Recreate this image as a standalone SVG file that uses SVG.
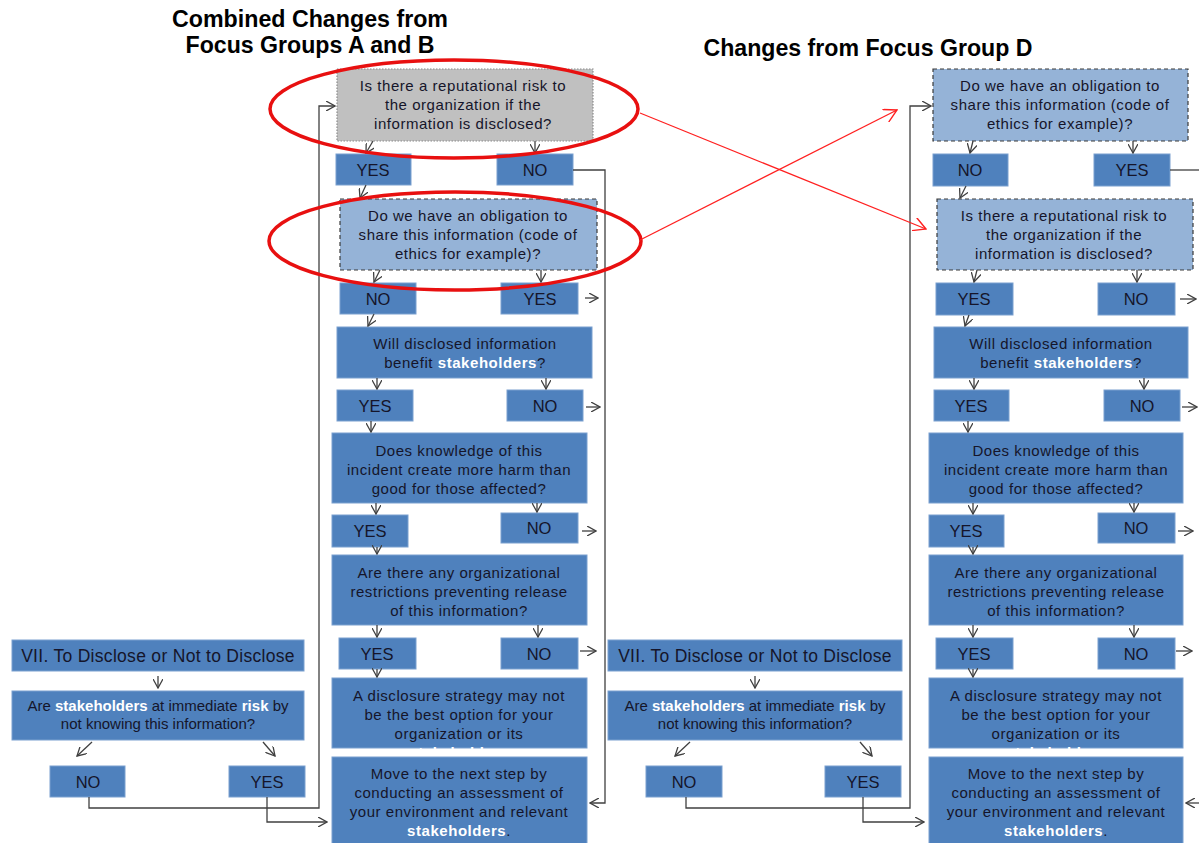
<svg xmlns="http://www.w3.org/2000/svg" width="1199" height="843" viewBox="0 0 1199 843">
<style>
.b{fill:#4f81bd;stroke:#7aa0cf;stroke-width:1}
.lb{fill:#95b3d7;stroke:#3a3a3a;stroke-width:1.2;stroke-dasharray:4 3}
.gr{fill:#c0c0c0;stroke:#8a8a8a;stroke-width:1.2;stroke-dasharray:1.5 1.5}
.t{font-family:"Liberation Sans",Arial,sans-serif;font-size:15px;letter-spacing:0.55px;fill:#15152a;text-anchor:middle}
.tl{font-family:"Liberation Sans",Arial,sans-serif;font-size:16.5px;fill:#15152a;text-anchor:middle}
.tv{font-family:"Liberation Sans",Arial,sans-serif;font-size:17.5px;letter-spacing:0.3px;fill:#15152a;text-anchor:middle}
.ts{font-family:"Liberation Sans",Arial,sans-serif;font-size:15px;fill:#15152a;text-anchor:middle}
.w{fill:#ffffff;font-weight:bold}
.h{font-family:"Liberation Sans",Arial,sans-serif;font-size:23px;font-weight:bold;fill:#000;text-anchor:middle}
.c{fill:none;stroke:#404040;stroke-width:1.3}
.a{fill:none;stroke:#404040;stroke-width:1.3;marker-end:url(#ah)}
.r{fill:none;stroke:#ff2020;stroke-width:1.2;marker-end:url(#rh)}
.e{fill:none;stroke:#e81010;stroke-width:3.5}
</style>
<defs>
<marker id="ah" viewBox="0 0 10 10" refX="9" refY="5" markerWidth="10" markerHeight="10" markerUnits="userSpaceOnUse" orient="auto">
<path d="M0,0 L9,5 L0,10" fill="none" stroke="#404040" stroke-width="1.3"/>
</marker>
<marker id="rh" viewBox="0 0 12 12" refX="11" refY="6" markerWidth="14" markerHeight="14" markerUnits="userSpaceOnUse" orient="auto">
<path d="M0,0 L11,6 L0,12" fill="none" stroke="#ff2020" stroke-width="1.2"/>
</marker>
</defs>
<rect width="1199" height="843" fill="#ffffff"/>

<g id="titles">
<text class="h" x="310" y="27" textLength="276" lengthAdjust="spacingAndGlyphs">Combined Changes from</text>
<text class="h" x="310" y="53" textLength="249" lengthAdjust="spacingAndGlyphs">Focus Groups A and B</text>
<text class="h" x="868" y="56" textLength="329" lengthAdjust="spacingAndGlyphs">Changes from Focus Group D</text>
</g>

<!-- ===== Left flow (A and B) ===== -->
<g id="ab-q1"><rect class="gr" x="337" y="69" width="256" height="72"/>
<text class="t" x="463" y="91">Is there a reputational risk to</text>
<text class="t" x="463" y="110">the organization if the</text>
<text class="t" x="463" y="129">information is disclosed?</text></g>
<g id="ab-q1-yes"><rect class="b" x="336" y="154" width="75" height="31"/><text class="tl" x="373" y="176">YES</text></g>
<g id="ab-q1-no"><rect class="b" x="497" y="154" width="76" height="31"/><text class="tl" x="535" y="176">NO</text></g>
<g id="ab-q2"><rect class="lb" x="340" y="199" width="257" height="71"/>
<text class="t" x="468" y="221">Do we have an obligation to</text>
<text class="t" x="468" y="240">share this information (code of</text>
<text class="t" x="468" y="259">ethics for example)?</text></g>
<g id="ab-q2-no"><rect class="b" x="340" y="283" width="76" height="31"/><text class="tl" x="378" y="305">NO</text></g>
<g id="ab-q2-yes"><rect class="b" x="501" y="283" width="77" height="31"/><text class="tl" x="540" y="305">YES</text></g>
<g id="ab-q3"><rect class="b" x="337" y="327" width="255" height="51"/>
<text class="t" x="465" y="349">Will disclosed information</text>
<text class="t" x="465" y="368">benefit <tspan class="w">stakeholders</tspan>?</text></g>
<g id="ab-q3-yes"><rect class="b" x="337" y="390" width="76" height="31"/><text class="tl" x="375" y="412">YES</text></g>
<g id="ab-q3-no"><rect class="b" x="507" y="390" width="76" height="31"/><text class="tl" x="545" y="412">NO</text></g>
<g id="ab-q4"><rect class="b" x="332" y="433" width="255" height="70"/>
<text class="t" x="459" y="456">Does knowledge of this</text>
<text class="t" x="459" y="475">incident create more harm than</text>
<text class="t" x="459" y="494">good for those affected?</text></g>
<g id="ab-q4-yes"><rect class="b" x="332" y="515" width="76" height="32"/><text class="tl" x="370" y="537">YES</text></g>
<g id="ab-q4-no"><rect class="b" x="501" y="513" width="77" height="30"/><text class="tl" x="539" y="534">NO</text></g>
<g id="ab-q5"><rect class="b" x="332" y="555" width="255" height="70"/>
<text class="t" x="459" y="578">Are there any organizational</text>
<text class="t" x="459" y="597">restrictions preventing release</text>
<text class="t" x="459" y="616">of this information?</text></g>
<g id="ab-q5-yes"><rect class="b" x="339" y="638" width="77" height="31"/><text class="tl" x="377" y="660">YES</text></g>
<g id="ab-q5-no"><rect class="b" x="501" y="638" width="77" height="31"/><text class="tl" x="539" y="660">NO</text></g>
<g id="ab-r1"><rect class="b" x="332" y="678" width="255" height="70"/>
<text class="t" x="459" y="701">A disclosure strategy may not</text>
<text class="t" x="459" y="720">be the best option for your</text>
<text class="t" x="459" y="739">organization or its</text>
<text class="t w" x="459" y="758">stakeholders</text></g>
<g id="ab-r2"><rect class="b" x="332" y="757" width="255" height="90"/>
<text class="t" x="459" y="779">Move to the next step by</text>
<text class="t" x="459" y="798">conducting an assessment of</text>
<text class="t" x="459" y="817">your environment and relevant</text>
<text class="t" x="459" y="836"><tspan class="w">stakeholders</tspan>.</text></g>
<g id="ab-vii"><rect class="b" x="12" y="640" width="292" height="31"/><text class="tv" x="158" y="662">VII. To Disclose or Not to Disclose</text></g>
<g id="ab-risk"><rect class="b" x="12" y="691" width="292" height="49"/>
<text class="ts" x="158" y="711">Are <tspan class="w">stakeholders</tspan> at immediate <tspan class="w">risk</tspan> by</text>
<text class="ts" x="158" y="729">not knowing this information?</text></g>
<g id="ab-risk-no"><rect class="b" x="50" y="766" width="75" height="31"/><text class="tl" x="88" y="788">NO</text></g>
<g id="ab-risk-yes"><rect class="b" x="229" y="766" width="76" height="31"/><text class="tl" x="267" y="788">YES</text></g>

<!-- ===== Right flow (D) ===== -->
<g id="d-q1"><rect class="lb" x="933" y="69" width="255" height="72"/>
<text class="t" x="1060" y="91">Do we have an obligation to</text>
<text class="t" x="1060" y="110">share this information (code of</text>
<text class="t" x="1060" y="129">ethics for example)?</text></g>
<g id="d-q1-no"><rect class="b" x="933" y="154" width="75" height="32"/><text class="tl" x="970" y="176">NO</text></g>
<g id="d-q1-yes"><rect class="b" x="1094" y="154" width="76" height="32"/><text class="tl" x="1132" y="176">YES</text></g>
<g id="d-q2"><rect class="lb" x="937" y="199" width="256" height="71"/>
<text class="t" x="1064" y="221">Is there a reputational risk to</text>
<text class="t" x="1064" y="240">the organization if the</text>
<text class="t" x="1064" y="259">information is disclosed?</text></g>
<g id="d-q2-yes"><rect class="b" x="936" y="283" width="77" height="32"/><text class="tl" x="974" y="305">YES</text></g>
<g id="d-q2-no"><rect class="b" x="1098" y="283" width="77" height="32"/><text class="tl" x="1136" y="305">NO</text></g>
<g id="d-q3"><rect class="b" x="934" y="327" width="254" height="51"/>
<text class="t" x="1061" y="349">Will disclosed information</text>
<text class="t" x="1061" y="368">benefit <tspan class="w">stakeholders</tspan>?</text></g>
<g id="d-q3-yes"><rect class="b" x="934" y="390" width="75" height="31"/><text class="tl" x="971" y="412">YES</text></g>
<g id="d-q3-no"><rect class="b" x="1104" y="390" width="76" height="31"/><text class="tl" x="1142" y="412">NO</text></g>
<g id="d-q4"><rect class="b" x="929" y="433" width="254" height="70"/>
<text class="t" x="1056" y="456">Does knowledge of this</text>
<text class="t" x="1056" y="475">incident create more harm than</text>
<text class="t" x="1056" y="494">good for those affected?</text></g>
<g id="d-q4-yes"><rect class="b" x="929" y="515" width="75" height="32"/><text class="tl" x="966" y="537">YES</text></g>
<g id="d-q4-no"><rect class="b" x="1098" y="513" width="77" height="30"/><text class="tl" x="1136" y="534">NO</text></g>
<g id="d-q5"><rect class="b" x="929" y="555" width="254" height="70"/>
<text class="t" x="1056" y="578">Are there any organizational</text>
<text class="t" x="1056" y="597">restrictions preventing release</text>
<text class="t" x="1056" y="616">of this information?</text></g>
<g id="d-q5-yes"><rect class="b" x="936" y="638" width="77" height="31"/><text class="tl" x="974" y="660">YES</text></g>
<g id="d-q5-no"><rect class="b" x="1098" y="638" width="77" height="31"/><text class="tl" x="1136" y="660">NO</text></g>
<g id="d-r1"><rect class="b" x="929" y="678" width="254" height="70"/>
<text class="t" x="1056" y="701">A disclosure strategy may not</text>
<text class="t" x="1056" y="720">be the best option for your</text>
<text class="t" x="1056" y="739">organization or its</text>
<text class="t w" x="1056" y="758">stakeholders</text></g>
<g id="d-r2"><rect class="b" x="929" y="757" width="254" height="90"/>
<text class="t" x="1056" y="779">Move to the next step by</text>
<text class="t" x="1056" y="798">conducting an assessment of</text>
<text class="t" x="1056" y="817">your environment and relevant</text>
<text class="t" x="1056" y="836"><tspan class="w">stakeholders</tspan>.</text></g>
<g id="d-vii"><rect class="b" x="608" y="640" width="294" height="31"/><text class="tv" x="755" y="662">VII. To Disclose or Not to Disclose</text></g>
<g id="d-risk"><rect class="b" x="608" y="691" width="294" height="49"/>
<text class="ts" x="755" y="711">Are <tspan class="w">stakeholders</tspan> at immediate <tspan class="w">risk</tspan> by</text>
<text class="ts" x="755" y="729">not knowing this information?</text></g>
<g id="d-risk-no"><rect class="b" x="646" y="766" width="76" height="31"/><text class="tl" x="684" y="788">NO</text></g>
<g id="d-risk-yes"><rect class="b" x="825" y="766" width="76" height="31"/><text class="tl" x="863" y="788">YES</text></g>

<g id="connectors">
<!-- left flow -->
<path class="a" d="M373,141 L366,153"/>
<path class="a" d="M535,141 L535,153"/>
<path class="a" d="M366,185 L360,198"/>
<path class="a" d="M380,270 L374,282"/>
<path class="a" d="M541,270 L541,282"/>
<path class="a" d="M585,298 L598,298"/>
<path class="a" d="M374,314 L368,326"/>
<path class="a" d="M377,378 L377,389"/>
<path class="a" d="M546,378 L546,389"/>
<path class="a" d="M586,407 L600,407"/>
<path class="a" d="M371,421 L371,432"/>
<path class="a" d="M376,503 L376,514"/>
<path class="a" d="M537,503 L537,512"/>
<path class="a" d="M582,531 L596,531"/>
<path class="a" d="M377,547 L377,554"/>
<path class="a" d="M377,625 L377,637"/>
<path class="a" d="M538,625 L538,637"/>
<path class="a" d="M580,651 L596,651"/>
<path class="a" d="M377,669 L377,677"/>
<path class="a" d="M573,170 L605,170 L605,803 L590,803"/>
<path class="a" d="M158,676 L158,688"/>
<path class="a" d="M92,742 L77,756"/>
<path class="a" d="M263,742 L275,756"/>
<path class="a" d="M89,797 L89,808 L319,808 L319,106 L335,106"/>
<path class="a" d="M267,797 L267,822 L327,822"/>
<!-- right flow -->
<path class="a" d="M973,141 L970,153"/>
<path class="a" d="M1133,141 L1133,153"/>
<path class="a" d="M966,186 L960,198"/>
<path class="a" d="M977,270 L974,282"/>
<path class="a" d="M1137,270 L1137,282"/>
<path class="a" d="M1180,299 L1196,299"/>
<path class="a" d="M969,315 L965,326"/>
<path class="a" d="M974,378 L974,389"/>
<path class="a" d="M1144,378 L1144,389"/>
<path class="a" d="M1182,407 L1197,407"/>
<path class="a" d="M968,421 L968,432"/>
<path class="a" d="M973,503 L973,514"/>
<path class="a" d="M1134,503 L1134,512"/>
<path class="a" d="M1178,531 L1193,531"/>
<path class="a" d="M973,547 L973,554"/>
<path class="a" d="M973,625 L973,637"/>
<path class="a" d="M1134,625 L1134,637"/>
<path class="a" d="M1176,651 L1192,651"/>
<path class="a" d="M973,669 L973,677"/>
<path class="c" d="M1170,170 L1199,170"/>
<path class="a" d="M1199,803 L1186,803"/>
<path class="a" d="M755,676 L755,688"/>
<path class="a" d="M690,742 L675,756"/>
<path class="a" d="M860,742 L872,756"/>
<path class="a" d="M686,797 L686,808 L910,808 L910,106 L931,106"/>
<path class="a" d="M863,797 L863,822 L924,822"/>
<!-- red highlight -->
<ellipse class="e" cx="454" cy="109" rx="184" ry="49"/>
<ellipse class="e" cx="455" cy="241" rx="186" ry="49"/>
<path class="r" d="M640,113 L926,229"/>
<path class="r" d="M640,240 L897,110"/>
</g>
</svg>
